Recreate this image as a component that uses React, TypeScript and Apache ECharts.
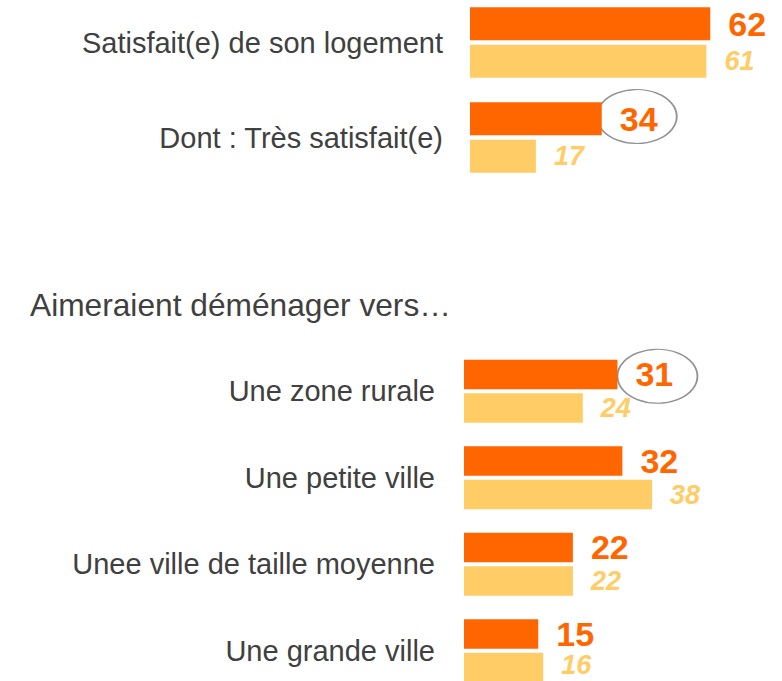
import React, { useEffect, useRef } from "react";
import * as echarts from "echarts";

const topCategories = ["Satisfait(e) de son logement", "Dont : Très satisfait(e)"];
const topCurrent = [62, 34];
const topPrevious = [61, 17];
const topHighlight = 1;

const bottomTitle = "Aimeraient déménager vers…";
const bottomCategories = [
  "Une zone rurale",
  "Une petite ville",
  "Unee ville de taille moyenne",
  "Une grande ville",
];
const bottomCurrent = [31, 32, 22, 15];
const bottomPrevious = [24, 38, 22, 16];
const bottomHighlight = 0;

const ORANGE = "#FF6600";
const LIGHT = "#FFCC66";
const TEXT = "#404040";
const FONT = "'Liberation Sans', Arial, sans-serif";

export default function App() {
  const ref = useRef<HTMLDivElement>(null);
  useEffect(() => {
    if (!ref.current) return;
    const chart = echarts.init(ref.current, undefined, { renderer: "svg" });
    const catAxis = (gridIndex: number, data: string[], margin: number) => ({
      type: "category",
      gridIndex,
      data,
      inverse: true,
      axisLine: { show: false },
      axisTick: { show: false },
      splitLine: { show: false },
      axisLabel: { fontSize: 29, color: TEXT, fontFamily: FONT, margin },
    });
    const valAxis = (gridIndex: number, max: number) => ({
      type: "value",
      gridIndex,
      min: 0,
      max,
      show: false,
      splitLine: { show: false },
    });
    const barSeries = (
      idx: number,
      data: number[],
      color: string,
      barWidth: number,
      barGap: string,
      big: boolean,
      liftLast = false
    ) => ({
      type: "bar",
      xAxisIndex: idx,
      yAxisIndex: idx,
      data: data.map((v, i) =>
        liftLast && i === data.length - 1 ? { value: v, label: { offset: [0, -3] } } : v
      ),
      barWidth,
      barGap,
      itemStyle: { color },
      label: {
        show: true,
        position: "right",
        distance: 18,
        color,
        fontFamily: FONT,
        fontWeight: "bold",
        fontStyle: big ? "normal" : "italic",
        fontSize: big ? 34 : 27,
        lineHeight: big ? 26 : 20,
      },
      silent: true,
    });
    const ellipse = (idx: number, value: number, cat: number, offset: number[]) => ({
      type: "scatter",
      xAxisIndex: idx,
      yAxisIndex: idx,
      data: [[value, cat]],
      symbol: "circle",
      symbolSize: [80, 54],
      symbolOffset: offset,
      itemStyle: { color: "rgba(0,0,0,0)", borderColor: "#777777", borderWidth: 1.5 },
      silent: true,
      z: 1,
    });
    chart.setOption({
      animation: false,
      title: {
        text: bottomTitle,
        left: 25,
        top: 284,
        textStyle: { fontSize: 31.7, fontWeight: "normal", color: TEXT, fontFamily: FONT },
      },
      grid: [
        { left: 470, top: -5, right: 2, bottom: 496, outerBoundsMode: "none", containLabel: false },
        { left: 464, top: 348, right: 21, bottom: -13, outerBoundsMode: "none", containLabel: false },
      ],
      xAxis: [valAxis(0, 80), valAxis(1, 60)],
      yAxis: [catAxis(0, topCategories, 27), catAxis(1, bottomCategories, 29)],
      series: [
        barSeries(0, topCurrent, ORANGE, 33, "14%", true),
        barSeries(0, topPrevious, LIGHT, 33, "14%", false),
        barSeries(1, bottomCurrent, ORANGE, 29.5, "14%", true),
        barSeries(1, bottomPrevious, LIGHT, 29.5, "14%", false, true),
        ellipse(0, topCurrent[topHighlight], topHighlight, [35, -21]),
        ellipse(1, bottomCurrent[bottomHighlight], bottomHighlight, [40, -15]),
      ],
    });
    return () => chart.dispose();
  }, []);
  return (
    <div
      ref={ref}
      style={{ position: "fixed", left: 0, top: 0, width: 782, height: 681, background: "#fff" }}
    />
  );
}
